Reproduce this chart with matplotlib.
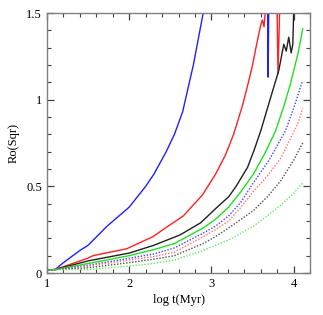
import matplotlib
matplotlib.use("Agg")
import matplotlib.pyplot as plt
from matplotlib.ticker import MultipleLocator

# Solid curves
blue_x = [1.0, 1.1, 1.2, 1.4, 1.5, 1.73, 2.0, 2.2, 2.3, 2.45, 2.55, 2.65, 2.78, 2.9, 3.0, 3.6, 3.675, 3.69, 3.705]
blue_y = [0.017, 0.02, 0.06, 0.13, 0.16, 0.27, 0.38, 0.50, 0.57, 0.70, 0.80, 0.93, 1.20, 1.5, 1.7, 2.0, 2.0, 1.13, 2.0]

red_x = [1.0, 1.1, 1.16, 1.5, 1.56, 1.97, 2.29, 2.41, 2.66, 2.89, 3.05, 3.17, 3.27, 3.38, 3.45, 3.5, 3.55, 3.6, 3.62,
         3.64, 3.67, 3.72, 3.79, 3.81, 3.84, 3.9]
red_y = [0.017, 0.02, 0.03, 0.086, 0.10, 0.14, 0.21, 0.25, 0.33, 0.45, 0.57, 0.68, 0.80, 0.97, 1.10, 1.20, 1.32, 1.43,
         1.46, 1.42, 1.6, 1.8, 1.8, 1.15, 1.7, 1.8]

black_x = [1.0, 1.1, 1.5, 2.0, 2.3, 2.62, 2.87, 3.07, 3.21, 3.3, 3.44, 3.52, 3.6, 3.7, 3.82, 3.88, 3.91, 3.94, 3.97,
           3.99, 4.0, 4.01]
black_y = [0.017, 0.02, 0.07, 0.115, 0.16, 0.22, 0.29, 0.38, 0.44, 0.50, 0.61, 0.71, 0.82, 0.98, 1.17, 1.32, 1.28, 1.36,
           1.27, 1.32, 1.5, 1.6]

green_x = [1.0, 1.1, 1.5, 2.0, 2.3, 2.55, 2.9, 3.05, 3.21, 3.36, 3.51, 3.65, 3.78, 3.88, 3.96, 4.06, 4.11]
green_y = [0.017, 0.02, 0.055, 0.10, 0.135, 0.17, 0.26, 0.31, 0.38, 0.47, 0.57, 0.69, 0.82, 0.96, 1.09, 1.28, 1.41]

# Dotted curves
bdot_x = [1.0, 1.1, 1.5, 2.0, 2.3, 2.55, 2.9, 3.05, 3.21, 3.36, 3.51, 3.7, 3.9, 4.0, 4.11]
bdot_y = [0.017, 0.02, 0.045, 0.085, 0.11, 0.145, 0.23, 0.27, 0.33, 0.41, 0.52, 0.65, 0.82, 0.95, 1.11]

rdot_x = [1.0, 1.1, 1.5, 2.0, 2.3, 2.55, 2.9, 3.05, 3.21, 3.36, 3.51, 3.68, 3.84, 4.05, 4.11]
rdot_y = [0.017, 0.02, 0.04, 0.075, 0.095, 0.12, 0.21, 0.25, 0.30, 0.38, 0.47, 0.56, 0.66, 0.86, 0.95]

kdot_x = [1.0, 1.1, 1.5, 2.0, 2.3, 2.55, 2.9, 3.05, 3.21, 3.36, 3.51, 3.68, 3.84, 4.0, 4.11]
kdot_y = [0.017, 0.02, 0.03, 0.06, 0.08, 0.10, 0.17, 0.21, 0.26, 0.31, 0.36, 0.44, 0.53, 0.65, 0.75]

gdot_x = [1.0, 1.1, 1.5, 2.0, 2.3, 2.55, 2.9, 3.05, 3.21, 3.36, 3.51, 3.68, 3.84, 4.0, 4.11]
gdot_y = [0.017, 0.018, 0.02, 0.04, 0.055, 0.075, 0.13, 0.16, 0.19, 0.23, 0.27, 0.33, 0.39, 0.46, 0.52]

plt.rcParams['font.family'] = ['Liberation Serif', 'DejaVu Serif']

fig = plt.figure(figsize=(3.23, 3.15), dpi=100)
ax = fig.add_axes([0.1455, 0.1333, 0.8145, 0.8254])

ax.plot(blue_x, blue_y, color='#2020ff', lw=1.0)
ax.plot(red_x, red_y, color='#ff2020', lw=1.0)
ax.plot(black_x, black_y, color='#202020', lw=1.0)
ax.plot(green_x, green_y, color='#20e020', lw=1.0)

ax.plot(bdot_x, bdot_y, color='#4040ff', lw=1.0, ls=(0, (1, 1.2)))
ax.plot(rdot_x, rdot_y, color='#ff7070', lw=1.0, ls=(0, (1, 1.2)))
ax.plot(kdot_x, kdot_y, color='#505050', lw=1.0, ls=(0, (1, 1.2)))
ax.plot(gdot_x, gdot_y, color='#60f060', lw=1.0, ls=(0, (1, 1.2)))

ax.set_xlim(1, 4.2)
ax.set_ylim(0, 1.5)
ax.xaxis.set_minor_locator(MultipleLocator(0.2))
ax.yaxis.set_minor_locator(MultipleLocator(0.1))
ax.set_xticks([1, 2, 3, 4])
ax.set_xticklabels(['1', '2', '3', '4'])
ax.set_yticks([0, 0.5, 1, 1.5])
ax.set_yticklabels(['0', '0.5', '1', '1.5'])
ax.tick_params(which='both', direction='in', top=True, right=True, labelsize=9, color='#404040')
ax.tick_params(which='major', length=5, width=0.9)
ax.tick_params(which='minor', length=3, width=0.8)
for s in ax.spines.values():
    s.set_color('#808080')
    s.set_linewidth(1.0)

ax.set_xlabel('log t(Myr)', fontsize=9, labelpad=3)
ax.set_ylabel('Ro(Sqr)', fontsize=9, labelpad=5)

fig.savefig('out.png', dpi=100)
